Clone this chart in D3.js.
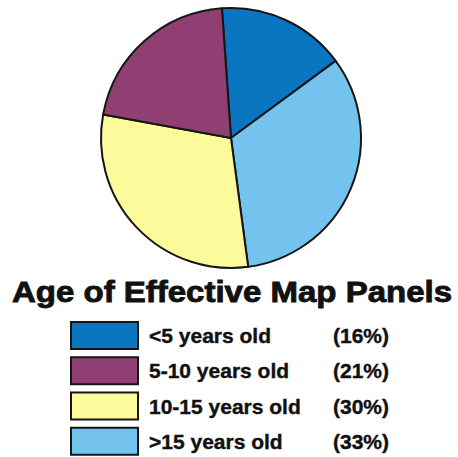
<!DOCTYPE html>
<html><head><meta charset="utf-8">
<script src="https://cdn.jsdelivr.net/npm/d3@7"></script>
<style>body{margin:0;background:#fff}svg{display:block}</style>
</head><body>
<script>
const categories = ["<5 years old", "5-10 years old", "10-15 years old", ">15 years old"];
const values = [16, 21, 30, 33];
const pieOrder = [0, 3, 2, 1];
const colors = ["#0a76c2", "#8f3f72", "#fcfa9b", "#74c3ef"];
const title = "Age of Effective Map Panels";

const W = 458, H = 457;
const svg = d3.select("body").append("svg").attr("width", W).attr("height", H);

const cx = 231, cy = 138, r = 130;
const pie = d3.pie().sort(null).value(i => values[i])
  .startAngle(-4 * Math.PI / 180).endAngle(356 * Math.PI / 180);
const arc = d3.arc().innerRadius(0).outerRadius(r);
const g = svg.append("g").attr("transform", `translate(${cx},${cy})`);
g.selectAll("path").data(pie(pieOrder)).join("path")
  .attr("d", arc).attr("fill", d => colors[d.data])
  .attr("stroke", "#161616").attr("stroke-width", 2).attr("stroke-linejoin", "round");

svg.append("text").attr("x", 12).attr("y", 302)
  .attr("font-family", "Liberation Sans, Arial, sans-serif").attr("font-weight", "bold")
  .attr("font-size", 30).attr("textLength", 440).attr("lengthAdjust", "spacingAndGlyphs")
  .attr("fill", "#111").attr("stroke", "#111").attr("stroke-width", 0.9).text(title);

const y = d3.scaleBand().domain(d3.range(categories.length)).range([321, 462]).paddingInner(0);
const rows = svg.selectAll("g.row").data(d3.range(categories.length)).join("g").attr("class", "row")
  .attr("transform", i => `translate(0,${y(i)})`);
rows.append("rect").attr("x", 71).attr("y", 1).attr("width", 67).attr("height", 27)
  .attr("fill", i => colors[i]).attr("stroke", "#161616").attr("stroke-width", 2);
rows.append("text").attr("x", 149).attr("y", 22)
  .attr("font-family", "Liberation Sans, Arial, sans-serif").attr("font-weight", "bold")
  .attr("font-size", 21).attr("fill", "#111").attr("stroke", "#111").attr("stroke-width", 0.4)
  .text(i => categories[i]);
rows.append("text").attr("x", 333).attr("y", 22)
  .attr("font-family", "Liberation Sans, Arial, sans-serif").attr("font-weight", "bold")
  .attr("font-size", 21).attr("fill", "#111").attr("stroke", "#111").attr("stroke-width", 0.4)
  .text(i => `(${values[i]}%)`);
</script>
</body></html>
